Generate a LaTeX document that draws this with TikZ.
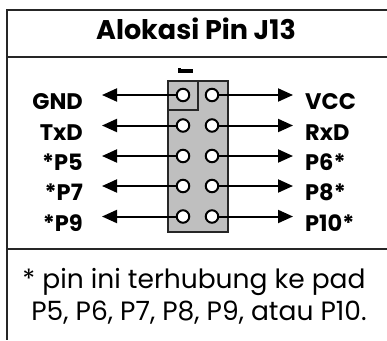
\documentclass[tikz,border=0pt]{standalone}
\usepackage{fontspec}
\setmainfont{Poppins}
\usetikzlibrary{arrows.meta}
\begin{document}
\begin{tikzpicture}[x=1pt,y=-1pt,
  frame/.style={line width=2pt,draw=black!85},
  pin/.style={circle,draw=black,fill=white,line width=2pt,minimum size=12.5pt,inner sep=0pt},
  sig/.style={line width=2pt,-{Triangle[length=15pt,width=13pt]}},
  lbl/.style={font=\bfseries\fontsize{22.5}{22.5}\selectfont,inner sep=0pt},
  note/.style={font=\fontsize{26.5}{26.5}\selectfont,inner sep=0pt,anchor=base},
  hdr/.style={line width=2pt,draw=black!85,fill=black!25}]
\useasboundingbox (0,0) rectangle (387,340);
\fill[white] (0,0) rectangle (387,340);
% frame
\draw[frame] (387,9.5) -- (6.5,9.5) -- (6.5,340);
\draw[frame] (6.5,57) -- (387,57);
\draw[frame] (6.5,249) -- (387,249);
% title
\node[font=\bfseries\fontsize{27}{27}\selectfont,inner sep=0pt,anchor=base] (title) at (196,39.5) {Alokasi Pin J13};
% header
\draw[hdr] (168,80.5) rectangle (227.5,232);
\draw[line width=2pt,draw=black!85] (168,110) -- (198,110) -- (198,80.5);
% pin-1 mark
\fill[black] (178,69) rectangle (193,72.5);
\fill[black] (178,67.5) rectangle (181,72.5);
% pins, tips and labels
\foreach \i/\y/\ln/\rn in {1/95/GND/VCC,2/125.5/TxD/RxD,3/156/*P5/P6*,4/186/*P7/P8*,5/216.5/*P9/P10*}{
  \node[pin] (l\i) at (183,\y) {};
  \node[pin] (r\i) at (212,\y) {};
  \coordinate (tl\i) at (102,\y);
  \coordinate (tr\i) at (293,\y);
  \draw[sig] (l\i.west) -- (tl\i);
  \draw[sig] (r\i.east) -- (tr\i);
  \node[lbl,anchor=base east] (ll\i) at (83,\y+14.5) {\ln};
  \node[lbl,anchor=base west] (rl\i) at (305,\y+14.5) {\rn};
}
% note
\node[note] (n1) at (194,288) {* pin ini terhubung ke pad};
\node[note] (n2) at (199,320) {P5, P6, P7, P8, P9, atau P10.};
\end{tikzpicture}
\end{document}
